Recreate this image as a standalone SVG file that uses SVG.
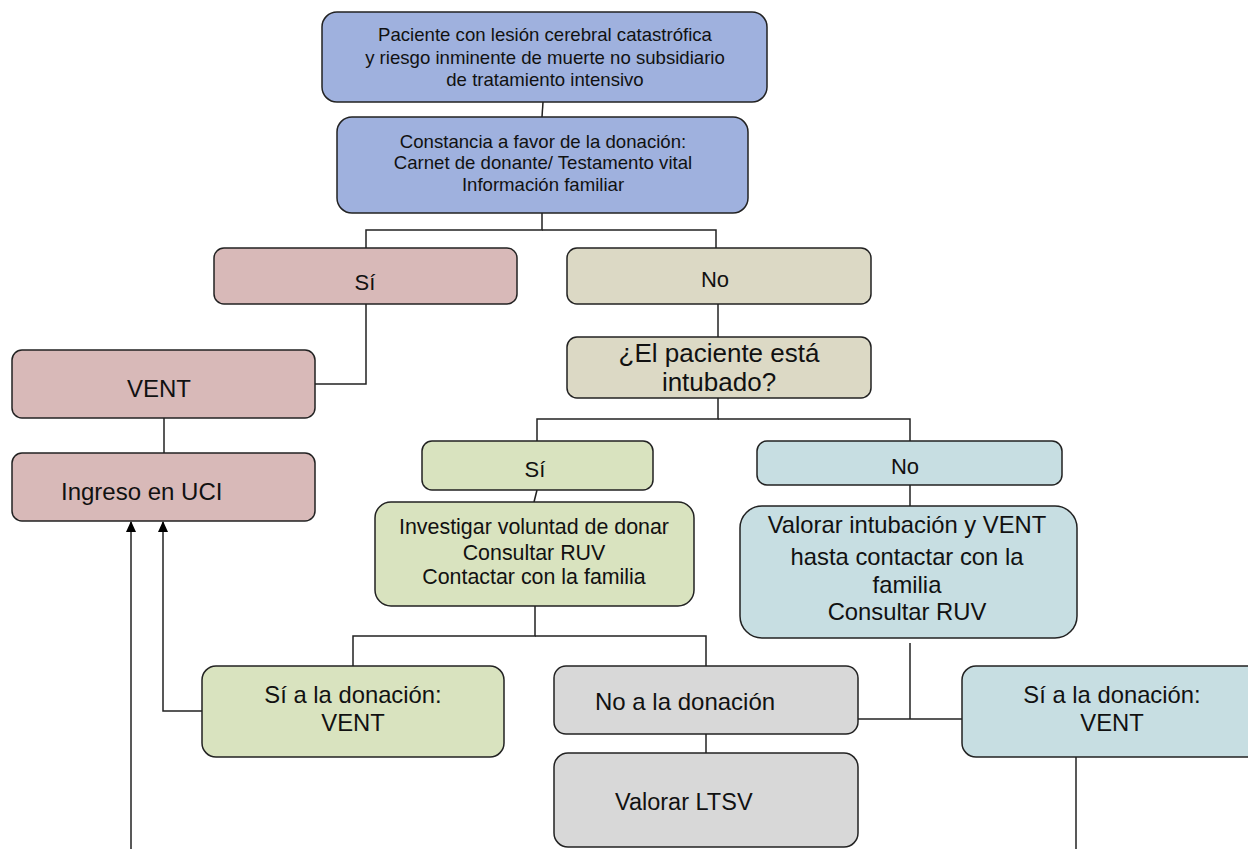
<svg xmlns="http://www.w3.org/2000/svg" width="1248" height="849" viewBox="0 0 1248 849">
<style>
  .box { stroke: #222; stroke-width: 1.5; }
  .blue { fill: #9fb1de; }
  .pink { fill: #d8b9b8; }
  .tan { fill: #dcd9c5; }
  .green { fill: #d9e3bf; }
  .lblue { fill: #c7dee2; }
  .gray { fill: #d8d8d8; }
  text { font-family: "Liberation Sans", Arial, Helvetica, sans-serif; fill: #111; text-anchor: middle; }
  .start { text-anchor: start; }
  .conn line, .conn polyline { stroke: #222; stroke-width: 1.5; fill: none; }
</style>
<defs>
  <marker id="arrow" markerWidth="11" markerHeight="10" refX="10" refY="5" orient="auto" markerUnits="userSpaceOnUse" viewBox="0 0 11 10">
    <path d="M0,0 L11,5 L0,10 Z" fill="#000"/>
  </marker>
</defs>
<rect width="1248" height="849" fill="#fff"/>

<g class="conn">
  <line x1="543" y1="102" x2="542" y2="117"/>
  <polyline points="542,213 542,230 366,230 366,248"/>
  <polyline points="542,230 716,230 716,248"/>
  <polyline points="366,304 366,384 315,384"/>
  <line x1="164" y1="418" x2="164" y2="453"/>
  <line x1="718" y1="304" x2="718" y2="337"/>
  <polyline points="718,398 718,419 537,419 537,442"/>
  <polyline points="718,419 910,419 910,442"/>
  <line x1="910" y1="485" x2="910" y2="506"/>
  <line x1="537" y1="490" x2="534" y2="502"/>
  <polyline points="535,606 535,636 353,636 353,666"/>
  <polyline points="535,636 706,636 706,666"/>
  <line x1="706" y1="734" x2="706" y2="753"/>
  <polyline points="858,719 910,719 962,719"/>
  <line x1="910" y1="643" x2="910" y2="719"/>
  <line x1="1076" y1="757" x2="1076" y2="849"/>
  <polyline points="202,711 163,711 163,522" marker-end="url(#arrow)"/>
  <line x1="131" y1="849" x2="131" y2="522" marker-end="url(#arrow)"/>
</g>

<g id="n-paciente">
  <rect class="box blue" x="322" y="12" width="445" height="90" rx="15"/>
  <text x="545" y="41" font-size="18.6">Paciente con lesión cerebral catastrófica</text>
  <text x="545" y="64" font-size="18.6">y riesgo inminente de muerte no subsidiario</text>
  <text x="545" y="86" font-size="18.6">de tratamiento intensivo</text>
</g>
<g id="n-constancia">
  <rect class="box blue" x="337" y="117" width="411" height="96" rx="15"/>
  <text x="543" y="148" font-size="18.6">Constancia a favor de la donación:</text>
  <text x="543" y="169" font-size="18.6">Carnet de donante/ Testamento vital</text>
  <text x="543" y="191" font-size="18.6">Información familiar</text>
</g>
<g id="n-si1">
  <rect class="box pink" x="214" y="248" width="303" height="56" rx="10"/>
  <text x="365" y="290" font-size="22">Sí</text>
</g>
<g id="n-no1">
  <rect class="box tan" x="567" y="248" width="304" height="56" rx="10"/>
  <text x="715" y="287" font-size="22">No</text>
</g>
<g id="n-vent">
  <rect class="box pink" x="12" y="350" width="303" height="68" rx="10"/>
  <text x="159" y="397" font-size="24">VENT</text>
</g>
<g id="n-ingreso">
  <rect class="box pink" x="12" y="453" width="303" height="68" rx="10"/>
  <text class="start" x="61" y="500" font-size="24">Ingreso en UCI</text>
</g>
<g id="n-intubado">
  <rect class="box tan" x="567" y="337" width="304" height="61" rx="10"/>
  <text x="719" y="362" font-size="26">¿El paciente está</text>
  <text x="719" y="391" font-size="26">intubado?</text>
</g>
<g id="n-si2">
  <rect class="box green" x="422" y="441" width="231" height="49" rx="10"/>
  <text x="535" y="477" font-size="22">Sí</text>
</g>
<g id="n-no2">
  <rect class="box lblue" x="757" y="441" width="305" height="44" rx="10"/>
  <text x="905" y="474" font-size="22">No</text>
</g>
<g id="n-investigar">
  <rect class="box green" x="375" y="502" width="319" height="104" rx="16"/>
  <text x="534" y="534" font-size="21.4">Investigar voluntad de donar</text>
  <text x="534" y="560" font-size="21.4">Consultar RUV</text>
  <text x="534" y="584" font-size="21.4">Contactar con la familia</text>
</g>
<g id="n-valorar-intub">
  <rect class="box lblue" x="740" y="506" width="337" height="132" rx="22"/>
  <text x="907" y="533" font-size="23.8">Valorar intubación y VENT</text>
  <text x="907" y="565" font-size="23.8">hasta contactar con la</text>
  <text x="907" y="593" font-size="23.8">familia</text>
  <text x="907" y="620" font-size="23.8">Consultar RUV</text>
</g>
<g id="n-si-donacion-green">
  <rect class="box green" x="202" y="666" width="302" height="91" rx="14"/>
  <text x="353" y="703" font-size="23.8">Sí a la donación:</text>
  <text x="353" y="731" font-size="23.8">VENT</text>
</g>
<g id="n-no-donacion">
  <rect class="box gray" x="554" y="666" width="304" height="68" rx="12"/>
  <text class="start" x="595" y="710" font-size="24">No a la donación</text>
</g>
<g id="n-ltsv">
  <rect class="box gray" x="554" y="753" width="304" height="94" rx="14"/>
  <text class="start" x="615" y="810" font-size="23.5">Valorar LTSV</text>
</g>
<g id="n-si-donacion-blue">
  <rect class="box lblue" x="962" y="666" width="300" height="91" rx="14"/>
  <text x="1112" y="703" font-size="23.8">Sí a la donación:</text>
  <text x="1112" y="731" font-size="23.8">VENT</text>
</g>
</svg>
